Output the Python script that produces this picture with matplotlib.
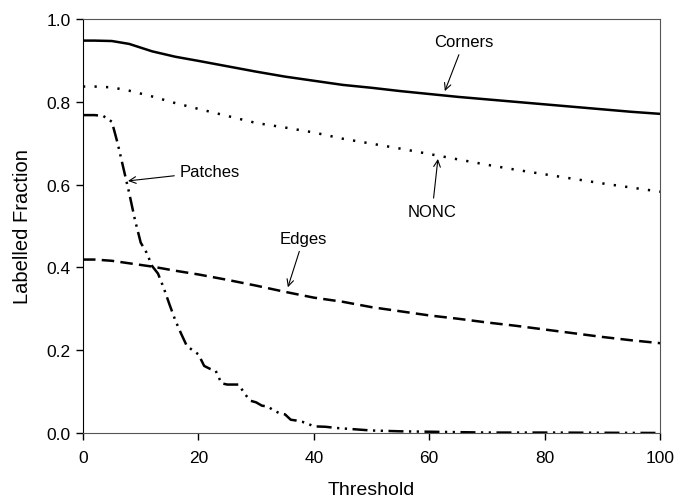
import numpy as np
import matplotlib
matplotlib.use('Agg')
import matplotlib.pyplot as plt

plt.rcParams['font.family'] = ['Liberation Sans', 'DejaVu Sans']

# threshold grid for the three smooth curves
thresh = [0, 2, 5, 8, 12, 16, 20, 25, 30, 35, 40, 45, 50, 55, 60, 65, 70, 75, 80, 85, 90, 95, 100]
corners = [0.948, 0.948, 0.947, 0.940, 0.922, 0.909, 0.899, 0.886, 0.873, 0.861, 0.851, 0.841,
           0.834, 0.826, 0.819, 0.812, 0.806, 0.800, 0.794, 0.788, 0.782, 0.776, 0.771]
nonc = [0.837, 0.837, 0.835, 0.827, 0.813, 0.797, 0.783, 0.766, 0.749, 0.738, 0.726, 0.711,
        0.699, 0.687, 0.674, 0.661, 0.648, 0.636, 0.625, 0.614, 0.603, 0.593, 0.583]
edges = [0.419, 0.419, 0.416, 0.410, 0.402, 0.392, 0.383, 0.370, 0.356, 0.341, 0.327, 0.317,
         0.304, 0.294, 0.284, 0.276, 0.267, 0.259, 0.250, 0.241, 0.232, 0.224, 0.217]

# patches drops fast, so it gets its own finer grid
thresh_p = [0, 2, 3.5, 5, 6, 7, 8, 9, 10, 11, 12, 13, 14, 15, 16, 17, 18, 19, 20, 21, 22, 23, 24,
            25, 26, 27, 28, 29, 30, 31, 32, 33, 34, 35, 36, 37, 38, 39, 40, 42, 44, 46, 48, 50,
            55, 60, 65, 70, 80, 90, 100]
patches = [0.768, 0.768, 0.766, 0.752, 0.700, 0.640, 0.580, 0.515, 0.460, 0.436, 0.403, 0.385,
           0.350, 0.310, 0.272, 0.240, 0.210, 0.200, 0.190, 0.162, 0.155, 0.150, 0.120, 0.117,
           0.117, 0.117, 0.095, 0.078, 0.074, 0.066, 0.064, 0.055, 0.048, 0.045, 0.032, 0.030,
           0.027, 0.022, 0.016, 0.015, 0.012, 0.010, 0.008, 0.006, 0.004, 0.003, 0.002, 0.001,
           0.001, 0.0005, 0.0]

fig = plt.figure(figsize=(6.77, 5.02), dpi=100)
ax = fig.add_axes([0.1226, 0.1355, 0.8524, 0.8245])

lw = 1.8
ax.plot(thresh, corners, color='black', lw=lw, linestyle='-')
ax.plot(thresh, nonc, color='black', lw=lw, linestyle=(0, (0.9, 3.7)))
ax.plot(thresh, edges, color='black', lw=lw, linestyle=(0, (5, 2.5)))
ax.plot(thresh_p, patches, color='black', lw=lw, linestyle=(0, (6, 2.2, 0.9, 2.2, 0.9, 2.2)))

ax.set_xlim(0, 100)
ax.set_ylim(0, 1.0)
ax.set_xticks([0, 20, 40, 60, 80, 100])
ax.set_yticks([0.0, 0.2, 0.4, 0.6, 0.8, 1.0])
ax.set_yticklabels(['0.0', '0.2', '0.4', '0.6', '0.8', '1.0'])
ax.tick_params(direction='out', length=5, width=1, labelsize=12.5, colors='black')
ax.tick_params(axis='x', pad=7)
ax.tick_params(axis='y', pad=4)
for side in ['top', 'right', 'bottom']:
    ax.spines[side].set_color('#555555')
ax.spines['left'].set_color('black')

ax.set_xlabel('Threshold', fontsize=14, labelpad=12)
ax.set_ylabel('Labelled Fraction', fontsize=14.5, labelpad=10)

arrow = dict(arrowstyle='->', lw=0.8, color='black', shrinkA=2, shrinkB=0)
ax.annotate('Corners', xy=(62.7, 0.826), xytext=(66, 0.945), fontsize=12,
            ha='center', va='center', arrowprops=arrow)
ax.annotate('NONC', xy=(61.5, 0.662), xytext=(60.5, 0.536), fontsize=12,
            ha='center', va='center', arrowprops=arrow)
ax.annotate('Patches', xy=(7.8, 0.609), xytext=(22, 0.631), fontsize=12,
            ha='center', va='center', arrowprops=arrow)
ax.annotate('Edges', xy=(35.5, 0.352), xytext=(38.2, 0.470), fontsize=12,
            ha='center', va='center', arrowprops=arrow)

fig.savefig('out.png', dpi=100)
